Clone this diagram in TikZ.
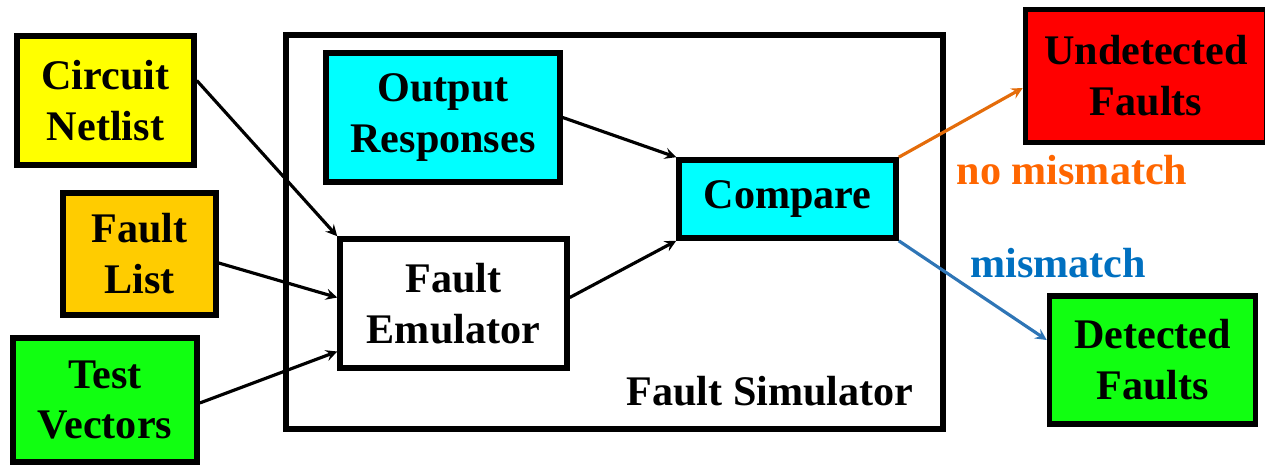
\documentclass[tikz,border=0pt]{standalone}
\usepackage{fontspec}
\setmainfont{Liberation Serif}
\usepackage{tikz}
\usetikzlibrary{arrows,shapes,positioning,calc}
\usepackage{xcolor}

\definecolor{jaune}{HTML}{FFFF00}
\definecolor{ambre}{HTML}{FFCC00}
\definecolor{vert}{HTML}{11FF11}
\definecolor{cyan}{HTML}{00FFFF}
\definecolor{rouge}{HTML}{FF0000}
\definecolor{orangetxt}{HTML}{FF6600}
\definecolor{orangefl}{HTML}{E46C0A}
\definecolor{bleutxt}{HTML}{0070C0}
\definecolor{bleufl}{HTML}{2E75B6}

\tikzstyle{bloc}=[draw=black, line width=3.2pt, align=center, inner sep=0pt,
  font=\fontsize{24}{29}\selectfont\bfseries]
\tikzstyle{fleche}=[->, >=stealth, line width=1.8pt]

\begin{document}
\begin{tikzpicture}[x=0.02cm, y=-0.02cm]

\useasboundingbox (0,0) rectangle (1265,467);

% entrees
\node[bloc, fill=jaune, minimum width=3.54cm, minimum height=2.58cm] (netlist) at (105.5,100.5) {Circuit\\Netlist};
\node[bloc, fill=ambre, minimum width=3.06cm, minimum height=2.44cm] (faultlist) at (139.5,254) {Fault\\List};
\node[bloc, fill=vert, minimum width=3.68cm, minimum height=2.48cm] (vectors) at (105,400) {Test\\Vectors};

% simulateur
\node[draw=black, line width=3.2pt, minimum width=13.14cm, minimum height=7.88cm] (sim) at (614.5,232) {};
\node[font=\fontsize{24}{29}\selectfont\bfseries, anchor=south east] (simlabel) at ($(sim.south east)+(-26,-20)$) {Fault Simulator};

\node[bloc, fill=cyan, minimum width=4.68cm, minimum height=2.58cm] (responses) at (443,117.5) {Output\\Responses};
\node[bloc, fill=white, minimum width=4.54cm, minimum height=2.58cm] (emulator) at (453.5,303.5) {Fault\\Emulator};
\node[bloc, fill=cyan, minimum width=4.34cm, minimum height=1.56cm] (compare) at (787.5,199) {Compare};

% sorties
\node[bloc, fill=rouge, minimum width=4.82cm, minimum height=2.66cm] (undetected) at (1146,76) {Undetected\\Faults};
\node[bloc, fill=vert, minimum width=4.12cm, minimum height=2.56cm] (detected) at (1152.5,360) {Detected\\Faults};

% fleches
\draw[fleche] ($(netlist.east)+(0,-20)$) -- (emulator.north west);
\draw[fleche] ($(faultlist.east)+(0,9)$) -- ($(emulator.west)+(0,-6)$);
\draw[fleche] ($(vectors.east)+(0,3)$) -- ($(emulator.west)+(0,48)$);
\draw[fleche] (responses.east) -- (compare.north west);
\draw[fleche] ($(emulator.east)+(0,-6)$) -- (compare.south west);
\draw[fleche, orangefl] (compare.north east) -- ($(undetected.west)+(0,12)$);
\draw[fleche, bleufl] (compare.south east) -- ($(detected.west)+(0,-20)$);

% texte
\node[font=\fontsize{24}{29}\selectfont\bfseries, text=orangetxt] (nomis) at (1072,170) {no mismatch};
\node[font=\fontsize{24}{29}\selectfont\bfseries, text=bleutxt] (mis) at (1058,263) {mismatch};

\end{tikzpicture}
\end{document}
